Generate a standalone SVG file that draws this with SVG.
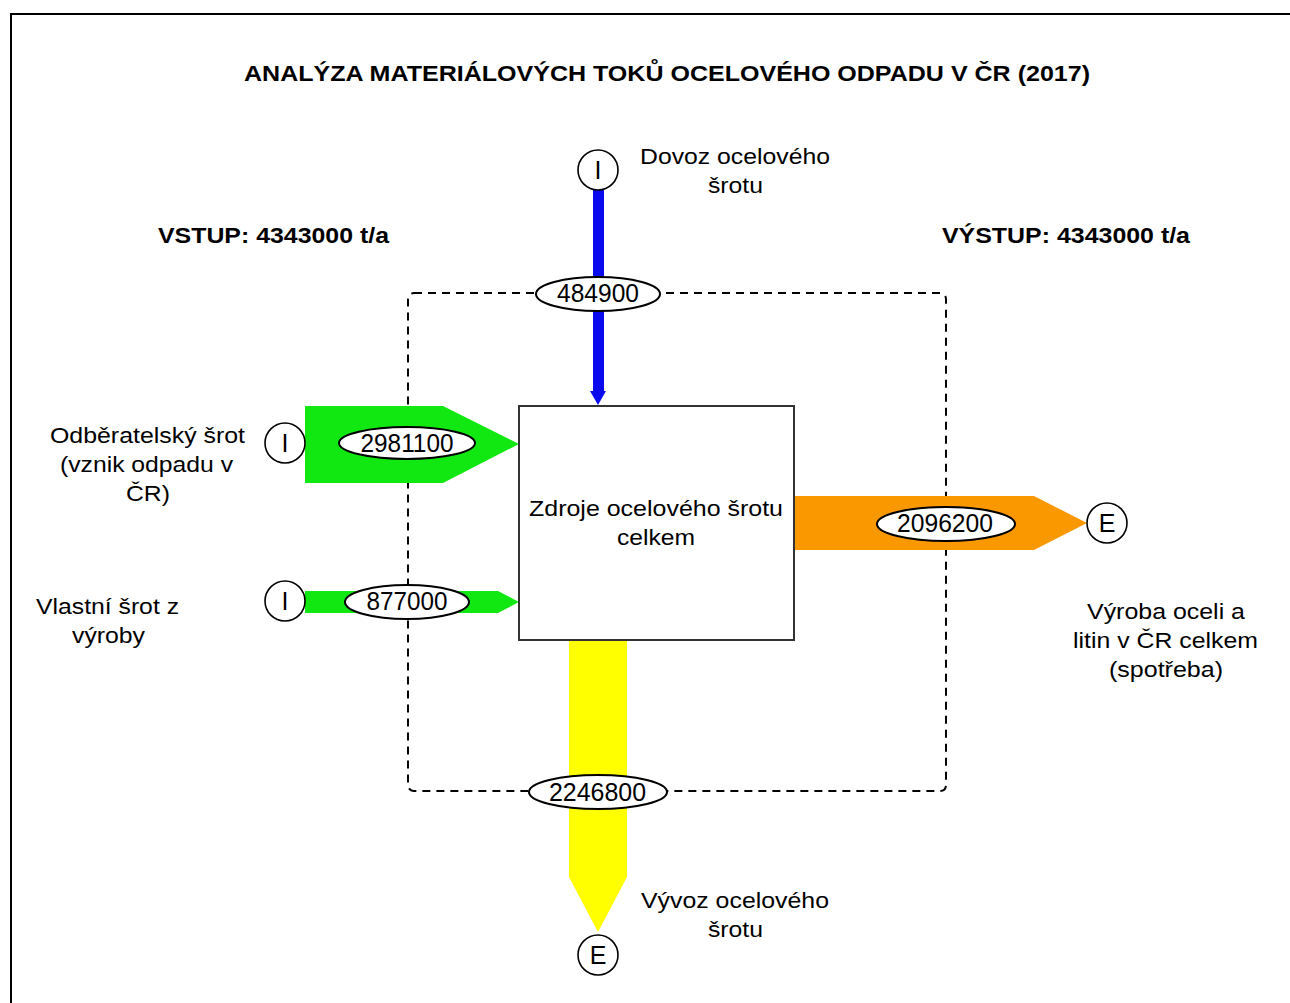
<svg xmlns="http://www.w3.org/2000/svg" width="1290" height="1003" viewBox="0 0 1290 1003">
<style>
text{font-family:"Liberation Sans",Arial,sans-serif;fill:#000;text-anchor:middle}
.t{font-size:22px;font-weight:bold}
.l{font-size:22px}
.n{font-size:25px}
.c{font-size:25px}
.ell{fill:#fff;stroke:#000;stroke-width:2}
.circ{fill:#fff;stroke:#000;stroke-width:1.6}
</style>
<rect width="1290" height="1003" fill="#fff"/>
<path d="M11,1003 V14 H1290" fill="none" stroke="#000" stroke-width="2"/>
<text class="t" x="667" y="81" textLength="846" lengthAdjust="spacingAndGlyphs">ANALÝZA MATERIÁLOVÝCH TOKŮ OCELOVÉHO ODPADU V ČR (2017)</text>
<text class="t" x="273.5" y="243" textLength="231" lengthAdjust="spacingAndGlyphs">VSTUP: 4343000 t/a</text>
<text class="t" x="1066" y="243" textLength="248" lengthAdjust="spacingAndGlyphs">VÝSTUP: 4343000 t/a</text>
<rect id="boundary" x="408" y="293" width="538" height="498" rx="6" fill="none" stroke="#000" stroke-width="2" stroke-dasharray="8 6"/>
<g id="connectors">
<polygon id="f-import" points="593,190 604,190 604,391 606,391 598,405 590,391 593,391" fill="#0a0aee"/>
<polygon id="f-customer" points="305,406 443,406 519,444 443,483 305,483" fill="#11e811"/>
<polygon id="f-own" points="305,591 498,591 519,602 498,613 305,613" fill="#11e811"/>
<polygon id="f-prod" points="794,496 1034,496 1087,523 1034,550 794,550" fill="#fa9800"/>
<polygon id="f-export" points="569,640 627,640 627,877 598,932 569,877" fill="#ffff00"/>
</g>
<g id="node-main">
<rect x="519" y="406" width="275" height="234" fill="#fff" stroke="#333" stroke-width="2"/>
<text class="l" x="656" y="516" textLength="254" lengthAdjust="spacingAndGlyphs">Zdroje ocelového šrotu</text>
<text class="l" x="656" y="545" textLength="78" lengthAdjust="spacingAndGlyphs">celkem</text>
</g>
<g id="labels">
<ellipse class="ell" cx="598" cy="294" rx="62" ry="17"/>
<text class="n" x="598" y="302" textLength="82" lengthAdjust="spacingAndGlyphs">484900</text>
<ellipse class="ell" cx="407" cy="443" rx="68" ry="16"/>
<text class="n" x="407" y="452" textLength="93" lengthAdjust="spacingAndGlyphs">2981100</text>
<ellipse class="ell" cx="407" cy="602" rx="62" ry="17"/>
<text class="n" x="407" y="610" textLength="81" lengthAdjust="spacingAndGlyphs">877000</text>
<ellipse class="ell" cx="946" cy="524" rx="69" ry="17"/>
<text class="n" x="945" y="532" textLength="96" lengthAdjust="spacingAndGlyphs">2096200</text>
<ellipse class="ell" cx="598" cy="792" rx="69" ry="17"/>
<text class="n" x="597.5" y="801" textLength="97" lengthAdjust="spacingAndGlyphs">2246800</text>
</g>
<g id="node-import">
<circle class="circ" cx="598" cy="170" r="20"/>
<text class="c" x="598" y="179">I</text>
<text class="l" x="735" y="164" textLength="190" lengthAdjust="spacingAndGlyphs">Dovoz ocelového</text>
<text class="l" x="735.5" y="193" textLength="55" lengthAdjust="spacingAndGlyphs">šrotu</text>
</g>
<g id="node-customer">
<circle class="circ" cx="285" cy="443" r="20"/>
<text class="c" x="285" y="452">I</text>
<text class="l" x="147.5" y="443" textLength="195" lengthAdjust="spacingAndGlyphs">Odběratelský šrot</text>
<text class="l" x="146.5" y="472" textLength="173" lengthAdjust="spacingAndGlyphs">(vznik odpadu v</text>
<text class="l" x="148" y="501" textLength="44" lengthAdjust="spacingAndGlyphs">ČR)</text>
</g>
<g id="node-own">
<circle class="circ" cx="285" cy="601" r="20"/>
<text class="c" x="285" y="610">I</text>
<text class="l" x="107.5" y="614" textLength="143" lengthAdjust="spacingAndGlyphs">Vlastní šrot z</text>
<text class="l" x="108.5" y="643" textLength="73" lengthAdjust="spacingAndGlyphs">výroby</text>
</g>
<g id="node-prod">
<circle class="circ" cx="1107" cy="523" r="20"/>
<text class="c" x="1107" y="532">E</text>
<text class="l" x="1166" y="619" textLength="158" lengthAdjust="spacingAndGlyphs">Výroba oceli a</text>
<text class="l" x="1165.5" y="648" textLength="185" lengthAdjust="spacingAndGlyphs">litin v ČR celkem</text>
<text class="l" x="1166" y="677" textLength="114" lengthAdjust="spacingAndGlyphs">(spotřeba)</text>
</g>
<g id="node-export">
<circle class="circ" cx="598" cy="955" r="20"/>
<text class="c" x="598" y="964">E</text>
<text class="l" x="735" y="908" textLength="188" lengthAdjust="spacingAndGlyphs">Vývoz ocelového</text>
<text class="l" x="735.5" y="937" textLength="55" lengthAdjust="spacingAndGlyphs">šrotu</text>
</g>
</svg>
